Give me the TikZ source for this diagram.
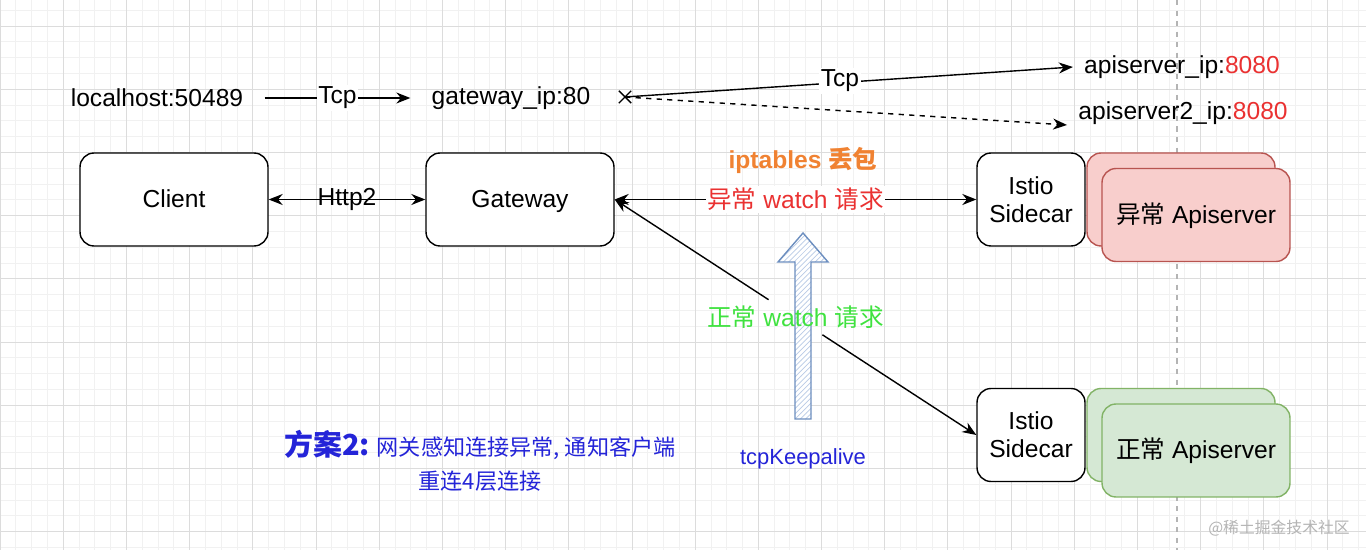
\documentclass[tikz,border=0pt]{standalone}
\usepackage{fontspec}
\setmainfont{Liberation Sans}
\newfontfamily\cjk{Noto Sans CJK SC}
\newcommand{\zh}[1]{{\cjk #1}}
\usetikzlibrary{arrows.meta,positioning,calc,shapes.misc,patterns}
\definecolor{gridminor}{HTML}{F1F1F1}
\definecolor{gridmajor}{HTML}{DCDCDC}
\definecolor{errfill}{HTML}{F8CECC}
\definecolor{errborder}{HTML}{B85450}
\definecolor{okfill}{HTML}{D5E8D4}
\definecolor{okborder}{HTML}{82B366}
\definecolor{dropcol}{HTML}{F08232}
\definecolor{errtext}{HTML}{EA3131}
\definecolor{oktext}{HTML}{3FE23F}
\definecolor{plancol}{HTML}{2424D8}
\definecolor{kaborder}{HTML}{6C8EBF}
\definecolor{kafill}{HTML}{B9CBE6}
\definecolor{markgray}{HTML}{B4B4B4}

\begin{document}
\begin{tikzpicture}[
 x=0.02cm,y=-0.02cm,
 every node/.style={font=\fontsize{14}{16}\selectfont},
 frame/.style={draw,fill=white,rounded corners=0.28cm,line width=0.8pt,minimum height=1.86cm},
 box/.style={frame,minimum width=3.76cm,text height=0.95em,text depth=0pt},
 sidecar/.style={frame,minimum width=2.16cm,align=center},
 errbox/.style={box,draw=errborder,fill=errfill},
 okbox/.style={box,draw=okborder,fill=okfill},
 addr/.style={inner xsep=0.42cm},
 link/.style={-{Stealth[length=0.28cm,width=0.22cm]},line width=0.8pt},
 duplex/.style={{Stealth[length=0.28cm,width=0.22cm]}-{Stealth[length=0.28cm,width=0.22cm]},line width=0.8pt},
 lbl/.style={fill=white,inner sep=1pt}
]
\useasboundingbox (0,0) rectangle (1366,550);
\fill[white] (0,0) rectangle (1366,550);
\begin{scope}[shift={(0,26)}]
\draw[gridminor,step=0.316cm] (0,524) grid (1366,-26);
\draw[gridmajor,step=1.264cm] (0,524) grid (1366,-26);
\end{scope}
\draw[markgray,dashed,line width=0.6pt] (1177,0) -- (1177,550);

\node[addr] (lh) at (157,98) {localhost:50489};
\node[addr] (gwip) at (511,98) {gateway\_ip:80};
\node[draw,cross out,minimum size=0.22cm,inner sep=0pt,line width=0.8pt] (cut) at (625,97) {};
\node[inner xsep=0.22cm] (api1) at (1182,67) {apiserver\_ip:\textcolor{errtext}{8080}};
\node[inner xsep=0.22cm] (api2) at (1183,113) {apiserver2\_ip:\textcolor{errtext}{8080}};
\draw[link] (lh) -- node[lbl] {Tcp} (gwip);
\draw[link] (cut.center) -- node[lbl,pos=0.48,yshift=1pt] {Tcp} (api1.west);
\draw[link,dashed] (cut.center) -- ([yshift=-0.24cm]api2.west);

\node[box] (client) at (174,199.5) {Client};
\node[box] (gw) at (520,199.5) {Gateway};
\node[sidecar] (sc1) at (1031,199.5) {Istio\\Sidecar};
\node[errbox] (bad0) at (1181,199.5) {};
\node[errbox] (bad) at (1196,215) {\zh{异常} Apiserver};
\node[sidecar] (sc2) at (1031,435) {Istio\\Sidecar};
\node[okbox] (good0) at (1181,435) {};
\node[okbox] (good) at (1196,450.5) {\zh{正常} Apiserver};

\draw[duplex] (client) -- node {Http2} (gw);
\node[text=dropcol,font=\fontsize{14}{16}\selectfont\bfseries] (drop) at (803,160) {iptables \zh{丢包}};
\draw[duplex] (gw.east) -- node[lbl,text=errtext] {\zh{异常} watch \zh{请求}} (sc1.west);

\draw[kaborder,line width=0.8pt,preaction={fill=white},pattern=north east lines,pattern color=kafill]
 (795,419) -- (795,262) -- (778,262) -- (803,233) -- (828,262) -- (811,262) -- (811,419) -- cycle;

\path (gw.east) -- node[text=oktext] (oklbl) {\zh{正常} watch \zh{请求}} (sc2.west);
\draw[line width=0.8pt,{Stealth[length=0.28cm,width=0.22cm]}-] (gw.east) -- (oklbl);
\draw[link] (oklbl) -- (sc2.west);

\node[text=plancol,font=\fontsize{12.5}{12.5}\selectfont] (keep) at (803,459) {tcpKeepalive};
\node[text=plancol,align=center,font=\fontsize{12.6}{19}\selectfont] (plan) at (480,461)
 {\zh{{\fontsize{16.5}{19}\selectfont\bfseries 方案2:} 网关感知连接异常, 通知客户端}\\\zh{重连4层连接}};
\node[text=markgray,font=\fontsize{9}{10}\selectfont] (mark) at (1279,528) {\zh{@稀土掘金技术社区}};
\end{tikzpicture}
\end{document}
